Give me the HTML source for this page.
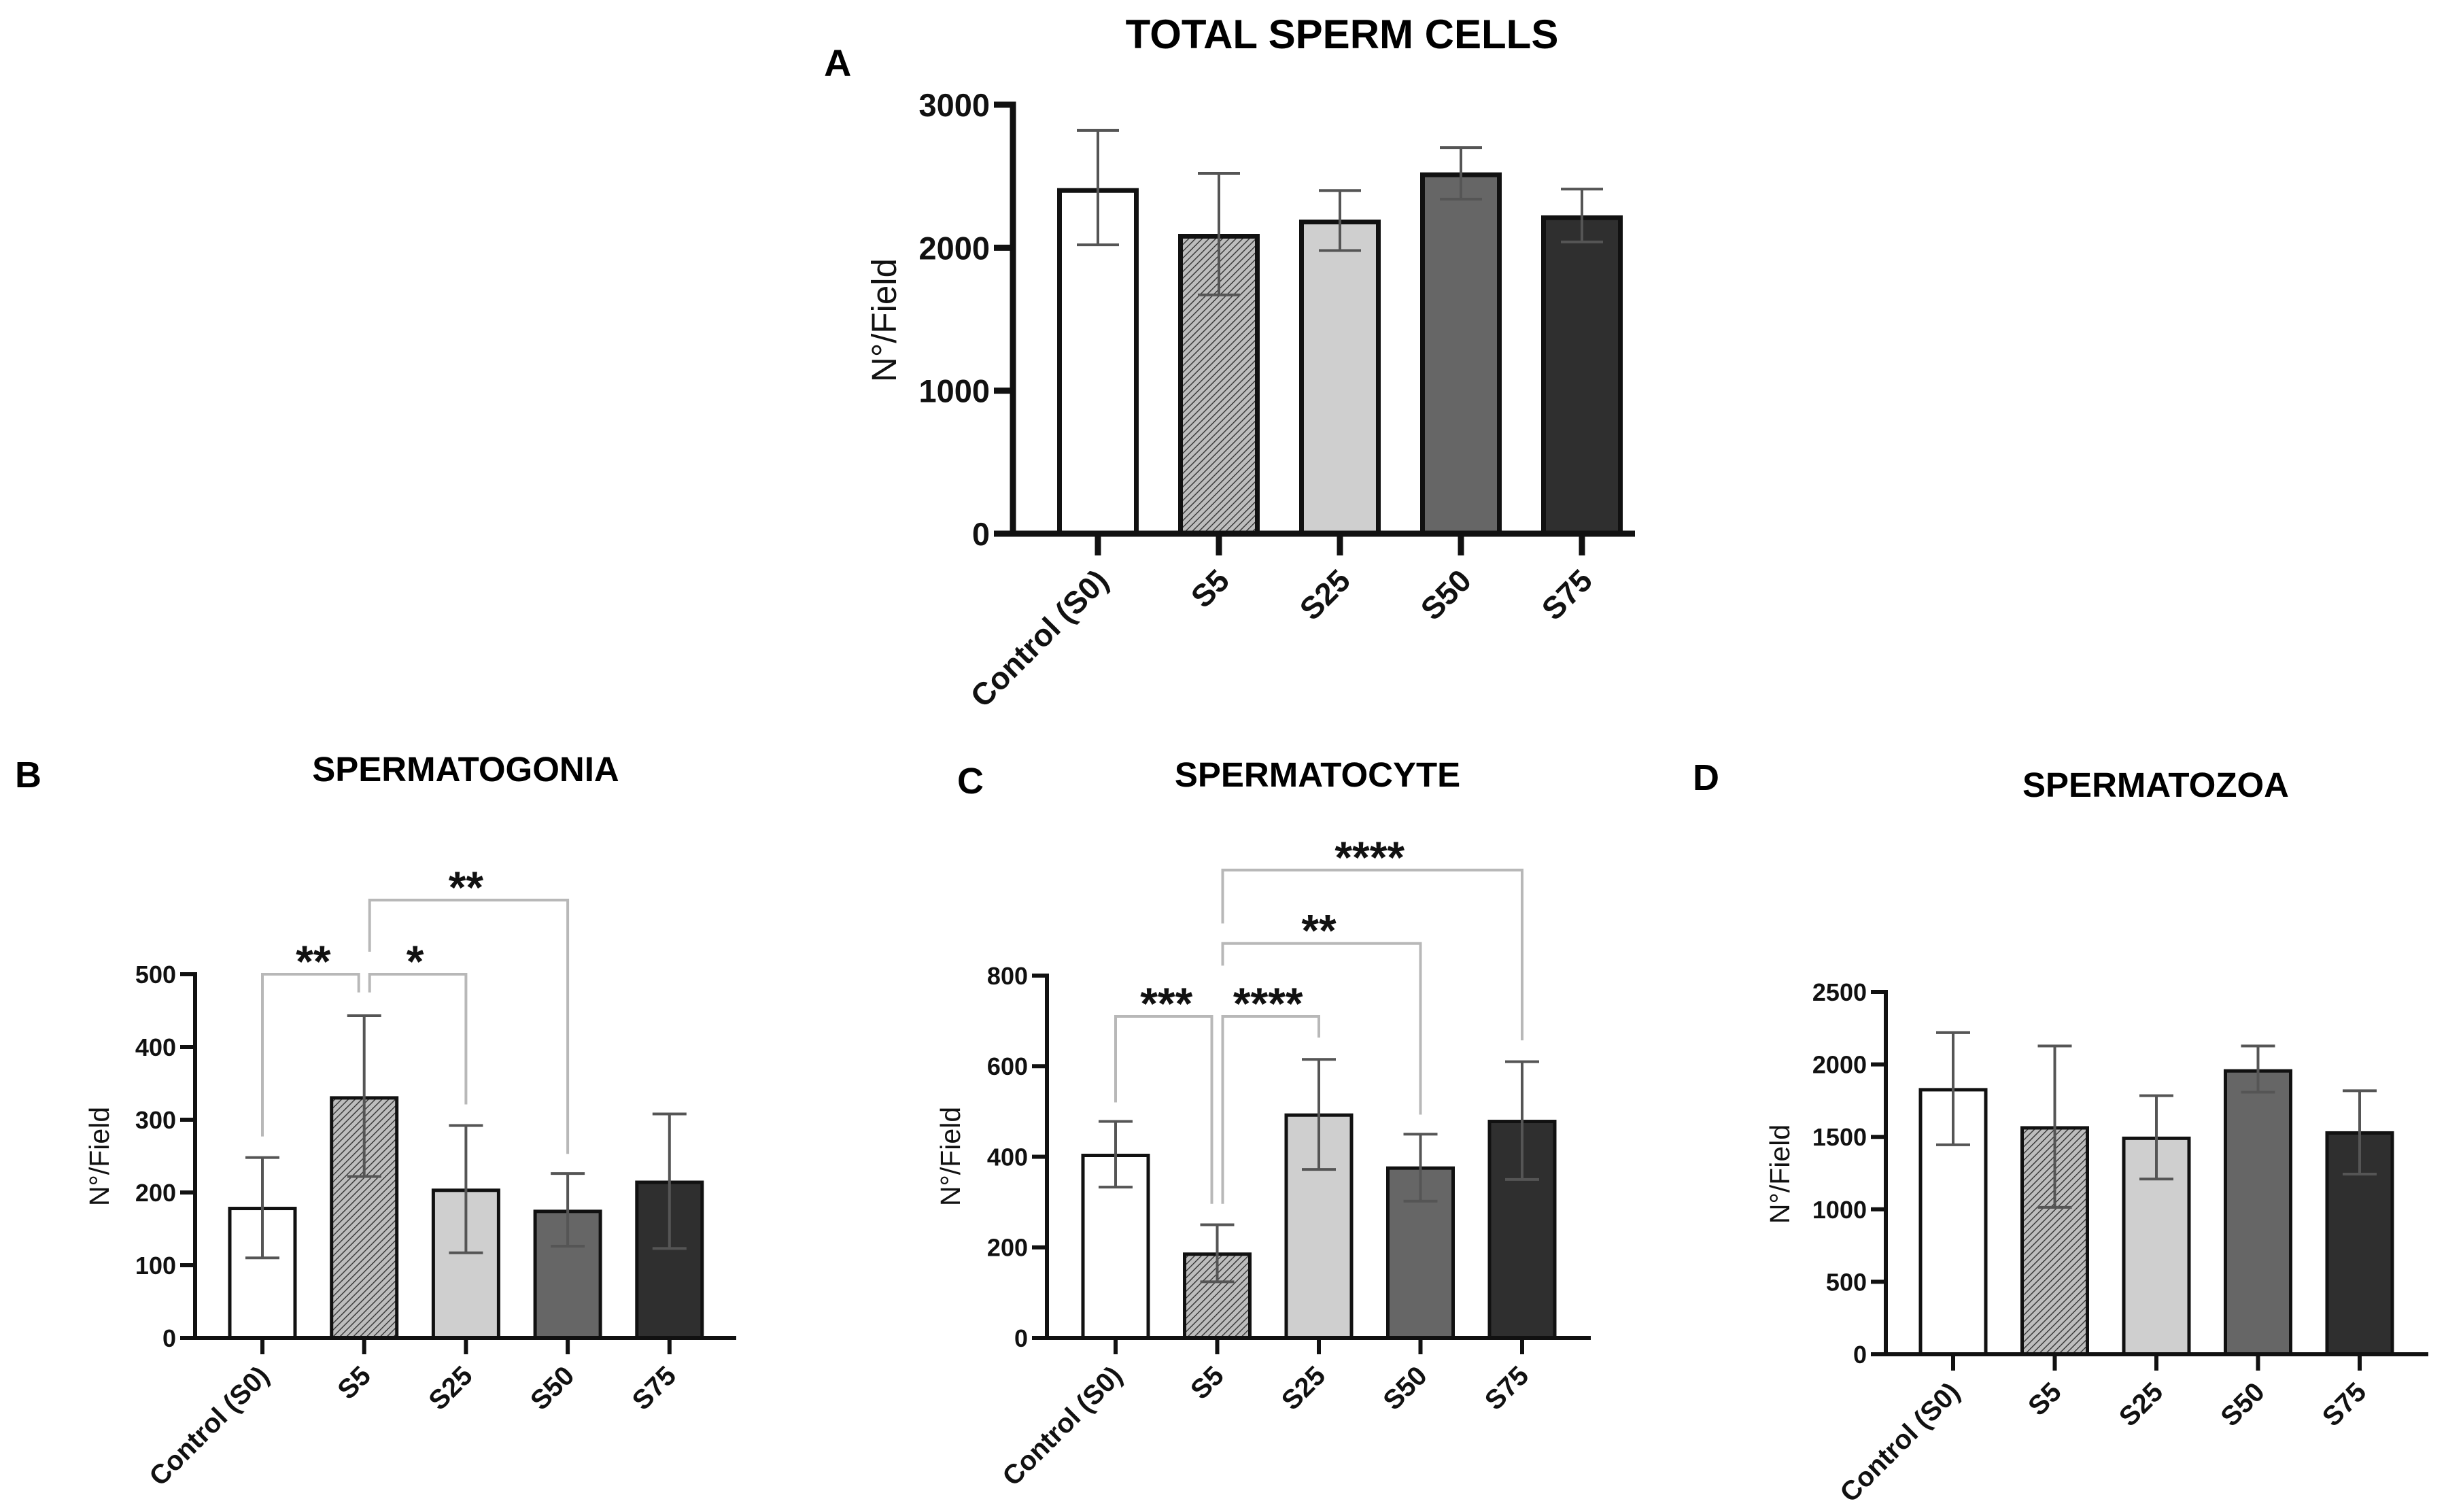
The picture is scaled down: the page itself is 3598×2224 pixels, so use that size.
<!DOCTYPE html>
<html><head><meta charset="utf-8"><style>
html,body{margin:0;padding:0;background:#fff;}
svg{display:block;font-family:"Liberation Sans",Arial,sans-serif;}
</style></head><body>
<svg id="fig" width="3598" height="2224" viewBox="0 0 3598 2224" xmlns="http://www.w3.org/2000/svg">
<defs>
<pattern id="hatch" patternUnits="userSpaceOnUse" width="7" height="7" patternTransform="rotate(45)">
<rect width="7" height="7" fill="#bdbdbd"/>
<line x1="0" y1="0" x2="0" y2="7" stroke="#333" stroke-width="2.8"/>
</pattern>
</defs>
<text x="1212" y="112" font-size="56" font-weight="bold">A</text>
<text x="1974" y="71" font-size="60" font-weight="bold" text-anchor="middle">TOTAL SPERM CELLS</text>
<text x="22" y="1158" font-size="54" font-weight="bold">B</text>
<text x="685" y="1149" font-size="51" font-weight="bold" text-anchor="middle">SPERMATOGONIA</text>
<text x="1408" y="1167" font-size="54" font-weight="bold">C</text>
<text x="1938" y="1157" font-size="51" font-weight="bold" text-anchor="middle">SPERMATOCYTE</text>
<text x="2490" y="1162" font-size="54" font-weight="bold">D</text>
<text x="3171" y="1172" font-size="51" font-weight="bold" text-anchor="middle">SPERMATOZOA</text>
</svg>
<script>
const categories = ["Control (S0)", "S5", "S25", "S50", "S75"];
const fills = ["#ffffff", "url(#hatch)", "#cfcfcf", "#666666", "#2f2f2f"];

// Panel A
const aMeans = [2400, 2080, 2180, 2510, 2210];
const aUpper = [2820, 2520, 2400, 2700, 2410];
const aLower = [2020, 1670, 1980, 2340, 2040];
const aTicks = [0, 1000, 2000, 3000];
// Panel B
const bMeans = [178, 330, 203, 174, 214];
const bUpper = [248, 443, 292, 226, 308];
const bLower = [110, 222, 117, 126, 123];
const bTicks = [0, 100, 200, 300, 400, 500];
const bBrackets = [[0, 1, 500, 277, 475, "**"], [1, 2, 500, 475, 321, "*"], [1, 3, 602, 531, 253, "**"]];
// Panel C
const cMeans = [403, 185, 492, 375, 478];
const cUpper = [478, 250, 615, 450, 610];
const cLower = [333, 124, 372, 302, 350];
const cTicks = [0, 200, 400, 600, 800];
const cBrackets = [[0, 1, 710, 520, 296, "***"], [1, 2, 710, 296, 663, "****"], [1, 3, 871, 822, 493, "**"], [1, 4, 1033, 915, 657, "****"]];
// Panel D
const dMeans = [1825, 1562, 1490, 1955, 1527];
const dUpper = [2219, 2127, 1784, 2127, 1818];
const dLower = [1445, 1014, 1209, 1808, 1243];
const dTicks = [0, 500, 1000, 1500, 2000, 2500];

const NS = "http://www.w3.org/2000/svg";
const svg = document.getElementById("fig");
function mk(tag, attrs, parent) {
  const e = document.createElementNS(NS, tag);
  for (const k in attrs) e.setAttribute(k, attrs[k]);
  (parent || svg).appendChild(e);
  return e;
}

function chart(o, means, upper, lower, ticks, brackets) {
  const g = mk("g", {});
  
  
  const ymax = ticks[ticks.length - 1];
  const yS = v => o.y0 - (v / ymax) * (o.y0 - o.yTop);
  const xS = i => o.x1 + i * o.step;
  means.forEach((m, i) => {
    const r = mk("rect", {x: xS(i) - o.bw / 2, y: yS(m), width: o.bw, height: o.y0 - yS(m), fill: fills[i], stroke: "#111", "stroke-width": o.bs}, g);
    
    
  });
  means.forEach((m, i) => {
    const eg = mk("g", {stroke: "#555", "stroke-width": o.es, fill: "none"}, g);
    
    
    const cx = xS(i);
    mk("line", {x1: cx, x2: cx, y1: yS(upper[i]), y2: yS(lower[i])}, eg);
    mk("line", {x1: cx - o.cap, x2: cx + o.cap, y1: yS(upper[i]), y2: yS(upper[i])}, eg);
    mk("line", {x1: cx - o.cap, x2: cx + o.cap, y1: yS(lower[i]), y2: yS(lower[i])}, eg);
  });
  const ax = mk("g", {stroke: "#111", "stroke-width": o.as, fill: "none"}, g);
  
  
  mk("line", {x1: o.ax, x2: o.ax, y1: yS(ymax) - o.as / 2, y2: o.y0 + o.as / 2}, ax);
  mk("line", {x1: o.ax - o.tl, x2: o.xEnd, y1: o.y0, y2: o.y0}, ax);
  ticks.forEach(t => {
    mk("line", {x1: o.ax - o.tl, x2: o.ax, y1: yS(t), y2: yS(t)}, ax);
    const tx = mk("text", {x: o.ax - o.tl - 6, y: yS(t) + o.fs * 0.36, "font-size": o.fs, "font-weight": "bold", "text-anchor": "end", fill: "#111"}, g);
    tx.textContent = t;
    
    
  });
  categories.forEach((c, i) => {
    mk("line", {x1: xS(i), x2: xS(i), y1: o.y0, y2: o.y0 + o.xtl}, ax);
    const ax2 = xS(i) + o.lx, ay = o.y0 + o.ly;
    const tx = mk("text", {x: ax2, y: ay, "font-size": o.cfs, "font-weight": "bold", "text-anchor": "end", fill: "#111", transform: "rotate(-45 " + ax2 + " " + ay + ")"}, g);
    tx.textContent = c;
    
    
  });
  const yt = mk("text", {x: o.ytx, y: o.yty, "font-size": o.yfs, "text-anchor": "middle", fill: "#111", transform: "rotate(-90 " + o.ytx + " " + o.yty + ")"}, g);
  yt.textContent = "N°/Field";
  
  
  (brackets || []).forEach(b => {
    const bg = mk("g", {}, g);
    
    
    const xa = xS(b[0]) + (b[0] === 1 ? 8 : 0), xb = xS(b[1]) - (b[1] === 1 ? 8 : 0);
    mk("polyline", {points: xa + "," + yS(b[3]) + " " + xa + "," + yS(b[2]) + " " + xb + "," + yS(b[2]) + " " + xb + "," + yS(b[4]), stroke: "#b8b8b8", "stroke-width": 4, fill: "none"}, bg);
    const st = mk("text", {x: (xS(b[0]) + xS(b[1])) / 2, y: yS(b[2]) + 4, "font-size": 66, "font-weight": "bold", "text-anchor": "middle", fill: "#111"}, bg);
    st.textContent = b[5];
  });
}

chart({id: "total-sperm-cells", x1: 1615, step: 178, bw: 113, y0: 785, yTop: 154, ax: 1490, xEnd: 2405, as: 9, bs: 7, es: 4, cap: 31, tl: 28, xtl: 32, fs: 47, cfs: 46, lx: 18, ly: 72, ytx: 1318, yty: 471, yfs: 51}, aMeans, aUpper, aLower, aTicks);
chart({id: "spermatogonia", x1: 386, step: 149.7, bw: 96, y0: 1968, yTop: 1433, ax: 287, xEnd: 1083, as: 6, bs: 5, es: 4, cap: 25, tl: 22, xtl: 24, fs: 36, cfs: 40, lx: 12, ly: 58, ytx: 160, yty: 1701, yfs: 41}, bMeans, bUpper, bLower, bTicks, bBrackets);
chart({id: "spermatocyte", x1: 1641, step: 149.5, bw: 96, y0: 1968, yTop: 1435, ax: 1540, xEnd: 2340, as: 6, bs: 5, es: 4, cap: 25, tl: 22, xtl: 24, fs: 36, cfs: 40, lx: 12, ly: 58, ytx: 1412, yty: 1701, yfs: 41}, cMeans, cUpper, cLower, cTicks, cBrackets);
chart({id: "spermatozoa", x1: 2873, step: 149.5, bw: 96, y0: 1992, yTop: 1459, ax: 2774, xEnd: 3572, as: 6, bs: 5, es: 4, cap: 25, tl: 22, xtl: 24, fs: 36, cfs: 40, lx: 12, ly: 58, ytx: 2632, yty: 1727, yfs: 41}, dMeans, dUpper, dLower, dTicks);
</script>
</body></html>
